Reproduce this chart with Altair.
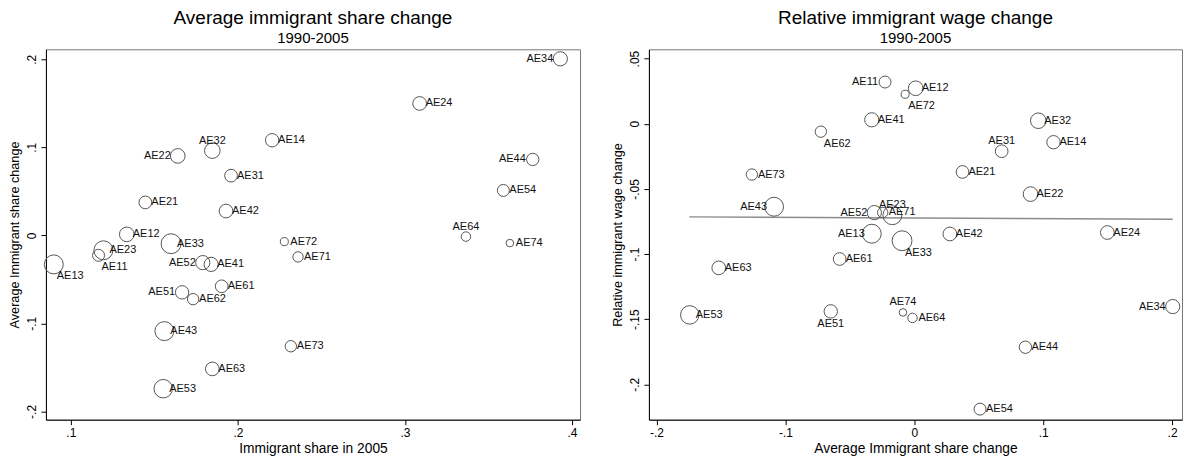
import altair as alt
import pandas as pd

FONT = "Liberation Sans"

# ---------------- data ----------------
names = ["AE11", "AE12", "AE13", "AE14", "AE21", "AE22", "AE23", "AE24",
         "AE31", "AE32", "AE33", "AE34", "AE41", "AE42", "AE43", "AE44",
         "AE51", "AE52", "AE53", "AE54", "AE61", "AE62", "AE63", "AE64",
         "AE71", "AE72", "AE73", "AE74"]

share_2005 = [0.1166, 0.1335, 0.0898, 0.2205, 0.1446, 0.1640, 0.1195, 0.3088,
              0.1959, 0.1847, 0.1600, 0.3930, 0.1840, 0.1929, 0.1560, 0.3765,
              0.1666, 0.1790, 0.1553, 0.3589, 0.1903, 0.1732, 0.1847, 0.3365,
              0.2360, 0.2278, 0.2317, 0.3628]

share_change = [-0.0227, 0.0011, -0.0330, 0.1080, 0.0374, 0.0902, -0.0170, 0.1498,
                0.0678, 0.0962, -0.0095, 0.2005, -0.0330, 0.0276, -0.1088, 0.0862,
                -0.0648, -0.0310, -0.1742, 0.0510, -0.0579, -0.0725, -0.1517, -0.0014,
                -0.0245, -0.0071, -0.1260, -0.0088]

wage_change = [0.0320, 0.0272, -0.0844, -0.0142, -0.0370, -0.0540, -0.0702, -0.0835,
               -0.0211, 0.0023, -0.0898, -0.1403, 0.0030, -0.0846, -0.0637, -0.1715,
               -0.1440, -0.0682, -0.1467, -0.2190, -0.1038, -0.0061, -0.1106, -0.1490,
               -0.0681, 0.0226, -0.0390, -0.1448]

weight = [16, 24, 40, 20, 18, 24, 40, 21,
          18, 27, 44, 22.5, 22.5, 21, 40, 17,
          20, 22.5, 38, 16, 18, 14.4, 21, 10,
          12, 7.2, 14.4, 6.4]

# linear fit line of the right panel (end points)
fit_x = [-0.1745, 0.2005]
fit_y = [-0.0715, -0.0733]

# ---------------- label placement (clock positions, styling) ----------------
pos_left = {"AE34": "9", "AE22": "9", "AE44": "9", "AE52": "9", "AE51": "9",
            "AE32": "12", "AE64": "12", "AE11": "5", "AE13": "5"}
pos_right = {"AE11": "9", "AE43": "9", "AE52": "9", "AE13": "9", "AE34": "9",
             "AE31": "12", "AE23": "12", "AE74": "12", "AE51": "6",
             "AE72": "5", "AE62": "5", "AE33": "5"}

OFFSETS = {
    "3": ("left", 6, 0),
    "9": ("right", -7, 0),
    "12": ("center", 0, -10),
    "6": ("center", 0, 13),
    "5": ("left", 3, 12),
}

df = pd.DataFrame({
    "name": names,
    "share_2005": share_2005,
    "share_change": share_change,
    "wage_change": wage_change,
    "weight": weight,
})
df["pos_l"] = [pos_left.get(n, "3") for n in names]
df["pos_r"] = [pos_right.get(n, "3") for n in names]

fit_df = pd.DataFrame({"x": fit_x, "y": fit_y})

LABEL_EXPR = ("datum.value == 0 ? '0' : (datum.value < 0 ? '-' : '') + "
              "substring(format(abs(datum.value), '~g'), 1)")

size_enc = alt.Size("weight:Q", scale=alt.Scale(domain=[0, 44], range=[0, 396]),
                    legend=None)


def y_axis(title, values):
    return alt.Axis(title=title, values=values, labelExpr=LABEL_EXPR,
                    labelAngle=270, labelAlign="center", labelBaseline="bottom",
                    labelPadding=2, titlePadding=4, titleFontSize=12.7)


def x_axis(title, values):
    return alt.Axis(title=title, values=values, labelExpr=LABEL_EXPR,
                    labelPadding=3, titlePadding=3, titleFontSize=13.8)


def panel(xf, yf, posf, xdom, ydom, xaxis, yaxis, title, extra=None, width=535):
    x = alt.X(f"{xf}:Q", scale=alt.Scale(domain=xdom, nice=False, zero=False),
              axis=xaxis)
    y = alt.Y(f"{yf}:Q", scale=alt.Scale(domain=ydom, nice=False, zero=False),
              axis=yaxis)
    base = alt.Chart(df)
    layers = []
    if extra is not None:
        layers.append(extra)
    layers.append(base.mark_point(shape="circle", filled=False, color="#555555",
                                  strokeWidth=1, opacity=1)
                  .encode(x=x, y=y, size=size_enc))
    for pos, (align, dx, dy) in OFFSETS.items():
        layers.append(base.transform_filter(alt.datum[posf] == pos)
                      .mark_text(align=align, baseline="middle", dx=dx, dy=dy,
                                 font=FONT, fontSize=11, color="#111111")
                      .encode(x=x, y=y, text="name:N"))
    return alt.layer(*layers).properties(
        width=width, height=371,
        title=alt.TitleParams(text=title, subtitle="1990-2005"))


left = panel("share_2005", "share_change", "pos_l",
             [0.0851, 0.4048], [-0.2094, 0.2113],
             x_axis("Immigrant share in 2005", [0.1, 0.2, 0.3, 0.4]),
             y_axis("Average Immigrant share change", [-0.2, -0.1, 0, 0.1, 0.2]),
             "Average immigrant share change", width=535)

fit_line = alt.Chart(fit_df).mark_line(color="#8c8c8c", strokeWidth=1.3).encode(
    x=alt.X("x:Q"), y=alt.Y("y:Q"))

right = panel("share_change", "wage_change", "pos_r",
              [-0.2059, 0.2077], [-0.2271, 0.0571],
              x_axis("Average Immigrant share change", [-0.2, -0.1, 0, 0.1, 0.2]),
              y_axis("Relative immigrant wage change",
                     [-0.2, -0.15, -0.1, -0.05, 0, 0.05]),
              "Relative immigrant wage change", extra=fit_line, width=534)

chart = alt.hconcat(left, right, spacing=30).properties(
    padding={"left": 0, "top": 0, "right": 0, "bottom": 0}
).configure_view(
    stroke="#777777", strokeWidth=1
).configure_axis(
    grid=False, domainColor="black", domainWidth=1, tickColor="black",
    tickSize=5, labelColor="black", titleColor="black", labelFont=FONT,
    titleFont=FONT, labelFontSize=12, titleFontSize=13,
    titleFontWeight="normal", zindex=1
).configure_title(
    font=FONT, fontSize=19, subtitleFont=FONT, subtitleFontSize=15,
    fontWeight="normal", color="black", subtitleColor="black",
    anchor="middle", offset=3, subtitlePadding=3
)

chart.save("out.html", embed_options={"renderer": "svg", "actions": False})
